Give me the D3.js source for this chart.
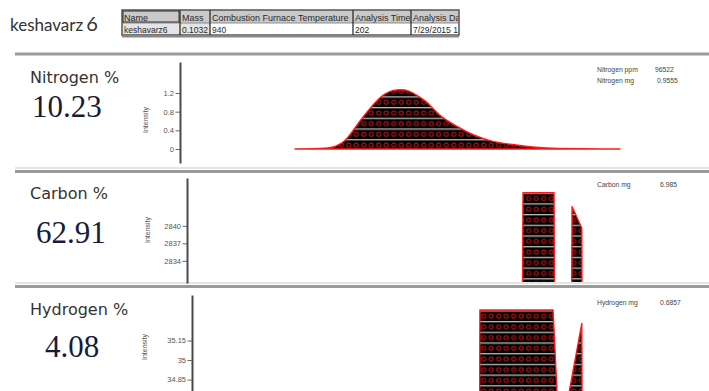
<!DOCTYPE html>
<html><head><meta charset="utf-8">
<script src="https://cdn.jsdelivr.net/npm/d3@7"></script>
<style>
body{margin:0;background:#fff;}
svg{display:block;}
</style></head><body>
<svg id="c" width="709" height="391"></svg>
<script>
// ---- run metadata ----
const sampleName = "keshavarz";
const sampleNo = "6";
const tableHeaders = ["Name", "Mass", "Combustion Furnace Temperature", "Analysis Time", "Analysis Date"];
const tableValues = ["keshavarz6", "0.1032", "940", "202", "7/29/2015 10:41:25AM"];

// ---- element results ----
const elementNames = ["Nitrogen %", "Carbon %", "Hydrogen %"];
const elementPercent = ["10.23", "62.91", "4.08"];

// ---- detector traces (time in s, intensity) ----
const nitrogenTime = [0, 15, 20, 25, 30, 35, 40, 45, 50, 55, 60, 65, 70, 75, 80, 90, 100, 110, 120, 135, 155, 175, 200];
const nitrogenIntensity = [0, 0.01, 0.02, 0.06, 0.16, 0.36, 0.6, 0.82, 1.02, 1.17, 1.25, 1.27, 1.24, 1.15, 1.03, 0.7, 0.48, 0.3, 0.18, 0.09, 0.02, 0.005, 0];
const nitrogenTicks = [0, 0.4, 0.8, 1.2];
const nitrogenMinor = [-0.2, 0, 0.2, 0.4, 0.6, 0.8, 1.0, 1.2, 1.4];

const carbonTime = [139.9, 140.3, 159.4, 159.8, 170.1, 170.5, 176.5, 176.7];
const carbonIntensity = [2820, 2845.7, 2845.7, 2820, 2820, 2843.3, 2839.6, 2820];
const carbonTicks = [2834, 2837, 2840];
const carbonMinor = [2832, 2833, 2834, 2835, 2836, 2837, 2838, 2839, 2840, 2841, 2842, 2843];

const hydrogenTime = [113.6, 113.8, 158.8, 162.0, 165.0, 176.5, 176.7];
const hydrogenIntensity = [34.5, 35.385, 35.385, 34.56, 34.5, 35.282, 34.5];
const hydrogenTicks = [34.85, 35, 35.15];
const hydrogenMinor = [34.85, 34.9, 34.95, 35, 35.05, 35.1, 35.15, 35.2, 35.25];

const nitrogenInfo = [["Nitrogen ppm", "96522"], ["Nitrogen mg", "0.9555"]];
const carbonInfo = [["Carbon mg", "6.985"]];
const hydrogenInfo = [["Hydrogen mg", "0.6857"]];

// ---- drawing ----
const svg = d3.select("#c");
const defs = svg.append("defs");

// fill pattern for the peak areas
const pw = 7.5, ph = 10.7;
const pat = defs.append("pattern").attr("id", "peakFill")
  .attr("patternUnits", "userSpaceOnUse").attr("width", pw).attr("height", ph);
pat.append("rect").attr("width", pw).attr("height", ph).attr("fill", "#000");
pat.append("circle").attr("cx", pw / 2).attr("cy", ph / 2 + 0.6).attr("r", 2.1)
  .attr("fill", "none").attr("stroke", "#c81010").attr("stroke-width", 1);
pat.append("rect").attr("width", pw).attr("height", 1.3).attr("fill", "#b9b9b9");

// header
const head = svg.append("text").attr("x", 10).attr("y", 31)
  .attr("font-family", "Lato, 'Open Sans', sans-serif").attr("fill", "#333");
head.append("tspan").attr("font-size", 17).text(sampleName);
head.append("tspan").attr("font-size", 20).attr("dx", 3).text(sampleNo);

// run table
const colEdges = [122, 180, 210, 353, 411, 459];
const tTop = 10, tMid = 23, tBot = 35;
const tbl = svg.append("g");
tbl.append("rect").attr("x", colEdges[0]).attr("y", tTop).attr("width", colEdges[5] - colEdges[0]).attr("height", tMid - tTop)
  .attr("fill", "#c9c9c9");
tbl.append("rect").attr("x", colEdges[0]).attr("y", tMid).attr("width", colEdges[2] - colEdges[0]).attr("height", tBot - tMid)
  .attr("fill", "#e4e4e4");
colEdges.slice(0, 5).forEach((x0, i) => {
  defs.append("clipPath").attr("id", "cell" + i).append("rect")
    .attr("x", x0 + 1).attr("y", tTop).attr("width", colEdges[i + 1] - x0 - 2).attr("height", tBot - tTop);
});
tableHeaders.forEach((h, i) => {
  tbl.append("text").attr("x", colEdges[i] + 2).attr("y", 20.5).attr("font-size", 9)
    .attr("clip-path", `url(#cell${i})`)
    .attr("font-family", "'Liberation Sans', Arial, sans-serif").attr("fill", "#2a2a2a").text(h);
});
tableValues.forEach((v, i) => {
  tbl.append("text").attr("x", colEdges[i] + 2).attr("y", 32.5).attr("font-size", 8.5)
    .attr("clip-path", `url(#cell${i})`)
    .attr("font-family", "'Liberation Sans', Arial, sans-serif").attr("fill", "#2a2a2a").text(v);
});
tbl.append("rect").attr("x", colEdges[0]).attr("y", tTop).attr("width", colEdges[5] - colEdges[0]).attr("height", tBot - tTop)
  .attr("fill", "none").attr("stroke", "#555").attr("stroke-width", 1.5);
tbl.append("line").attr("x1", colEdges[0]).attr("x2", colEdges[5]).attr("y1", tBot + 1.5).attr("y2", tBot + 1.5)
  .attr("stroke", "#888").attr("stroke-width", 2);
tbl.append("line").attr("x1", colEdges[0]).attr("x2", colEdges[5]).attr("y1", tMid).attr("y2", tMid)
  .attr("stroke", "#777").attr("stroke-width", 0.8);
tbl.append("rect").attr("x", colEdges[0] + 1).attr("y", tTop + 1).attr("width", colEdges[1] - colEdges[0] - 2).attr("height", tMid - tTop - 2)
  .attr("fill", "none").attr("stroke", "#333").attr("stroke-width", 1);
colEdges.slice(1, 5).forEach(x => {
  tbl.append("line").attr("x1", x).attr("x2", x).attr("y1", tTop).attr("y2", tBot)
    .attr("stroke", "#222").attr("stroke-width", 1.2);
});

// panel separators
const sep = svg.append("g");
[[54, 3, "#9a9a9a"], [168, 1, "#c8c8c8"], [171.5, 3, "#9a9a9a"], [283, 1, "#c8c8c8"], [286.5, 3, "#9a9a9a"]].forEach(([y, w, c]) => {
  sep.append("line").attr("x1", 15).attr("x2", 709).attr("y1", y).attr("y2", y)
    .attr("stroke", c).attr("stroke-width", w);
});

// shared time axis
const x = d3.scaleLinear().domain([0, 200]).range([295, 620]);

const panels = [
  { name: elementNames[0], pct: elementPercent[0], t: nitrogenTime, v: nitrogenIntensity, ticks: nitrogenTicks, minor: nitrogenMinor,
    domain: [-0.3, 1.864], range: [163, 62], axisX: 180, base: 0, clip: [55, 168], info: nitrogenInfo,
    titleY: 83, pctX: 32, pctY: 117, intX: 148, intY: 120, infoY: 72 },
  { name: elementNames[1], pct: elementPercent[1], t: carbonTime, v: carbonIntensity, ticks: carbonTicks, minor: carbonMinor,
    domain: [2830.2, 2848.2], range: [283, 178], axisX: 187, base: 2820, clip: [173, 282], info: carbonInfo,
    titleY: 199, pctX: 36, pctY: 243, intX: 150, intY: 230, infoY: 187 },
  { name: elementNames[2], pct: elementPercent[2], t: hydrogenTime, v: hydrogenIntensity, ticks: hydrogenTicks, minor: hydrogenMinor,
    domain: [34.762, 35.5], range: [391, 295], axisX: 192, base: 34.5, clip: [288, 391], info: hydrogenInfo,
    titleY: 315, pctX: 45, pctY: 357, intX: 147, intY: 347, infoY: 305 }
];

panels.forEach((p, k) => {
  const g = svg.append("g");
  const y = d3.scaleLinear().domain(p.domain).range(p.range);

  g.append("text").attr("x", 30).attr("y", p.titleY).attr("font-size", 16)
    .attr("font-family", "'DejaVu Sans', Tahoma, sans-serif").attr("fill", "#333").text(p.name);
  g.append("text").attr("x", p.pctX).attr("y", p.pctY).attr("font-size", 31)
    .attr("font-family", "'Liberation Serif', 'Times New Roman', serif").attr("fill", "#161b3a").text(p.pct);

  // intensity axis
  const ax = g.append("g").attr("transform", `translate(${p.axisX},0)`);
  ax.call(d3.axisLeft(y).tickValues(p.minor).tickSize(2.5).tickSizeOuter(0).tickFormat(""));
  ax.call(d3.axisLeft(y).tickValues(p.ticks).tickSize(4.5).tickSizeOuter(0).tickPadding(1.5).tickFormat(d => String(d)));
  ax.selectAll(".domain").attr("stroke", "#4a4a4a").attr("stroke-width", 2);
  ax.selectAll(".tick line").attr("stroke", "#555").attr("stroke-width", 0.9);
  ax.selectAll(".tick text").attr("font-size", 7.5).attr("fill", "#555")
    .attr("font-family", "'Liberation Sans Narrow', 'Liberation Sans', Arial, sans-serif");

  g.append("text").attr("transform", `translate(${p.intX},${p.intY}) rotate(-90)`)
    .attr("text-anchor", "middle").attr("font-size", 7).attr("fill", "#555")
    .attr("font-family", "'Liberation Sans', Arial, sans-serif").text("Intensity");

  // trace
  const clipId = "clip" + k;
  defs.append("clipPath").attr("id", clipId).append("rect")
    .attr("x", 0).attr("y", p.clip[0]).attr("width", 709).attr("height", p.clip[1] - p.clip[0]);
  const pts = p.t.map((t, i) => ({ t, v: p.v[i] }));
  const area = d3.area().x(d => x(d.t)).y0(y(p.base)).y1(d => y(d.v)).curve(k === 0 ? d3.curveMonotoneX : d3.curveLinear);
  g.append("path").datum(pts).attr("clip-path", `url(#${clipId})`)
    .attr("d", area).attr("fill", "url(#peakFill)")
    .attr("stroke", "#ff1a1a").attr("stroke-width", 1.4).attr("stroke-linejoin", "round");

  // result info
  p.info.forEach(([lab, val], i) => {
    g.append("text").attr("x", 597).attr("y", p.infoY + i * 11).attr("font-size", 6.8).attr("fill", "#444")
      .attr("font-family", "'Liberation Sans', Arial, sans-serif").text(lab);
    g.append("text").attr("x", k === 0 ? (i === 0 ? 655 : 657) : 660).attr("y", p.infoY + i * 11).attr("font-size", 6.8).attr("fill", "#444")
      .attr("font-family", "'Liberation Sans', Arial, sans-serif").text(val);
  });
});
</script>
</body></html>
